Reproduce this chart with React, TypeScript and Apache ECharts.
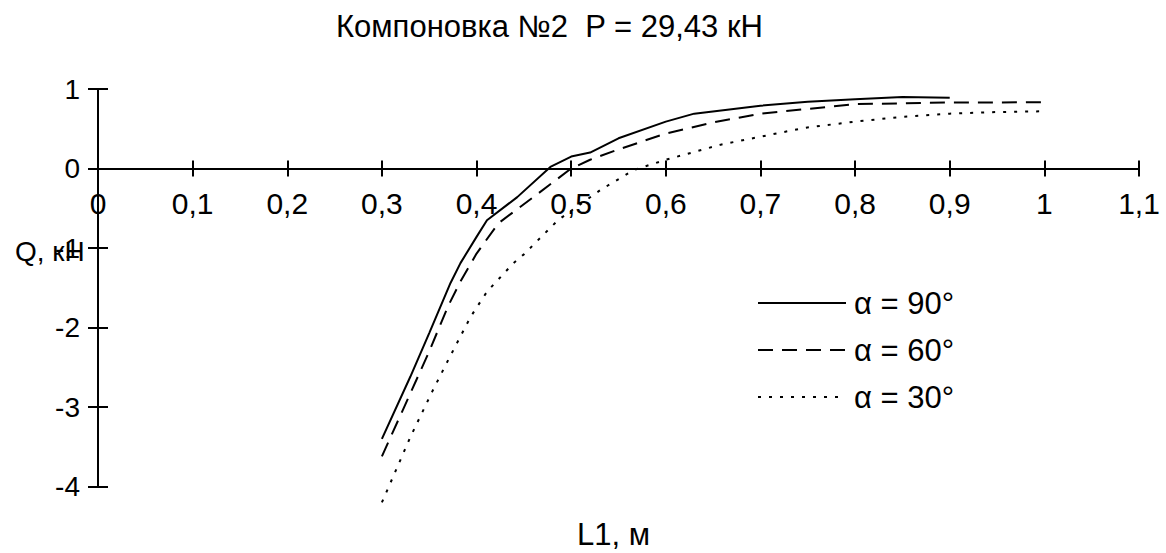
import React, { useEffect, useRef } from "react";
import * as echarts from "echarts";

const L1_90 = [0.3, 0.33, 0.35, 0.3725, 0.383, 0.4, 0.411, 0.443, 0.478, 0.5, 0.52, 0.55, 0.6, 0.63, 0.7, 0.75, 0.8, 0.85, 0.9];
const Q_90 = [-3.4, -2.62, -2.07, -1.44, -1.19, -0.86, -0.65, -0.36, 0.02, 0.15, 0.2, 0.38, 0.59, 0.69, 0.79, 0.84, 0.87, 0.9, 0.89];

const L1_60 = [0.3, 0.33, 0.35, 0.37, 0.383, 0.4, 0.423, 0.46, 0.5, 0.52, 0.55, 0.6, 0.65, 0.7, 0.75, 0.8, 0.85, 0.9, 0.95, 1.0];
const Q_60 = [-3.62, -2.83, -2.3, -1.73, -1.42, -1.07, -0.69, -0.36, 0.0, 0.11, 0.24, 0.44, 0.58, 0.69, 0.75, 0.81, 0.82, 0.83, 0.83, 0.835];

const L1_30 = [0.3, 0.33, 0.353, 0.37, 0.394, 0.411, 0.439, 0.45, 0.486, 0.531, 0.566, 0.6, 0.658, 0.7, 0.746, 0.8, 0.85, 0.9, 0.95, 1.0];
const Q_30 = [-4.2, -3.38, -2.81, -2.41, -1.86, -1.55, -1.19, -1.08, -0.65, -0.27, -0.02, 0.11, 0.3, 0.4, 0.51, 0.59, 0.65, 0.69, 0.71, 0.72];

const SERIES_NAMES = ["α = 90°", "α = 60°", "α = 30°"];
const TITLE = "Компоновка №2  P = 29,43 кН";
const X_NAME = "L1, м";
const Y_NAME = "Q, кН";
const X_MIN = 0;
const X_MAX = 1.1;
const X_STEP = 0.1;
const Y_MIN = -4;
const Y_MAX = 1;
const Y_STEP = 1;

const FONT = "'Liberation Sans', Arial, sans-serif";
const W = 1166;
const H = 553;
const GRID = { left: 98, right: 27, top: 89, bottom: 66.5 };

function pairs(xs: number[], ys: number[]) {
  return xs.map((x, i) => [x, ys[i]]);
}

function fmtX(v: number) {
  const r = Math.round(v * 10) / 10;
  return String(r).replace(".", ",");
}

export default function App() {
  const ref = useRef<HTMLDivElement>(null);
  useEffect(() => {
    document.body.style.margin = "0";
    if (!ref.current) return;
    const chart = echarts.init(ref.current, undefined, { renderer: "svg" });
    const plotH = H - GRID.top - GRID.bottom;
    const zeroOffset = -plotH * ((0 - Y_MIN) / (Y_MAX - Y_MIN));
    const lineBlack = { color: "#000", width: 2 };
    const xBase = { type: "value", min: X_MIN, max: X_MAX, interval: X_STEP, splitLine: { show: false }, position: "bottom", offset: zeroOffset };
    const yBase = { type: "value", min: Y_MIN, max: Y_MAX, interval: Y_STEP, splitLine: { show: false }, position: "left" };
    const lineStyles = [
      { color: "#000", width: 2, type: "solid" },
      { color: "#000", width: 2, type: [15, 9] },
      { color: "#000", width: 2, type: [3, 8] },
    ];
    const datas = [pairs(L1_90, Q_90), pairs(L1_60, Q_60), pairs(L1_30, Q_30)];
    chart.setOption({
      animation: false,
      backgroundColor: "#fff",
      textStyle: { fontFamily: FONT, color: "#000" },
      title: {
        text: TITLE,
        left: 331,
        top: 6,
        textStyle: { fontFamily: FONT, fontSize: 31, fontWeight: "normal", color: "#000" },
      },
      grid: { ...GRID, containLabel: false },
      legend: {
        orient: "vertical",
        left: 752,
        top: 282,
        padding: 5,
        itemWidth: 88,
        itemHeight: 12,
        itemGap: 15,
        data: SERIES_NAMES,
        itemStyle: { opacity: 0 },
        textStyle: { fontFamily: FONT, fontSize: 31, color: "#000", lineHeight: 32, padding: [0, 0, 0, 3] },
      },
      xAxis: [
        {
          ...xBase,
          axisLine: { show: true, onZero: false, lineStyle: lineBlack },
          axisTick: { show: true, inside: false, length: 8, lineStyle: lineBlack },
          axisLabel: {
            show: true,
            interval: 0,
            margin: 20,
            formatter: fmtX,
            fontFamily: FONT,
            fontSize: 30,
            color: "#000",
            showMinLabel: true,
            showMaxLabel: true,
          },
        },
        {
          ...xBase,
          axisLine: { show: true, onZero: false, lineStyle: lineBlack },
          axisTick: { show: true, inside: true, length: 8, lineStyle: lineBlack },
          axisLabel: { show: false },
        },
      ],
      yAxis: [
        {
          ...yBase,
          axisLine: { show: true, onZero: false, lineStyle: lineBlack },
          axisTick: { show: true, inside: false, length: 10, lineStyle: lineBlack },
          axisLabel: {
            show: true,
            margin: 18,
            fontFamily: FONT,
            fontSize: 28,
            color: "#000",
            showMinLabel: true,
            showMaxLabel: true,
          },
        },
        {
          ...yBase,
          axisLine: { show: true, onZero: false, lineStyle: lineBlack },
          axisTick: { show: true, inside: true, length: 10, lineStyle: lineBlack },
          axisLabel: { show: false },
        },
      ],
      series: SERIES_NAMES.map((name, i) => ({
        name,
        type: "line",
        xAxisIndex: 0,
        yAxisIndex: 0,
        data: datas[i],
        symbol: "none",
        showSymbol: false,
        smooth: false,
        clip: false,
        lineStyle: lineStyles[i],
        itemStyle: { color: "#000" },
      })),
      graphic: [
        {
          type: "text",
          left: 15,
          top: 237,
          style: { text: Y_NAME, font: `28px ${FONT}`, fill: "#000" },
        },
        {
          type: "text",
          left: 577,
          top: 519,
          style: { text: X_NAME, font: `31px ${FONT}`, fill: "#000" },
        },
      ],
    });
    return () => chart.dispose();
  }, []);
  return <div ref={ref} style={{ width: W, height: H }} />;
}
